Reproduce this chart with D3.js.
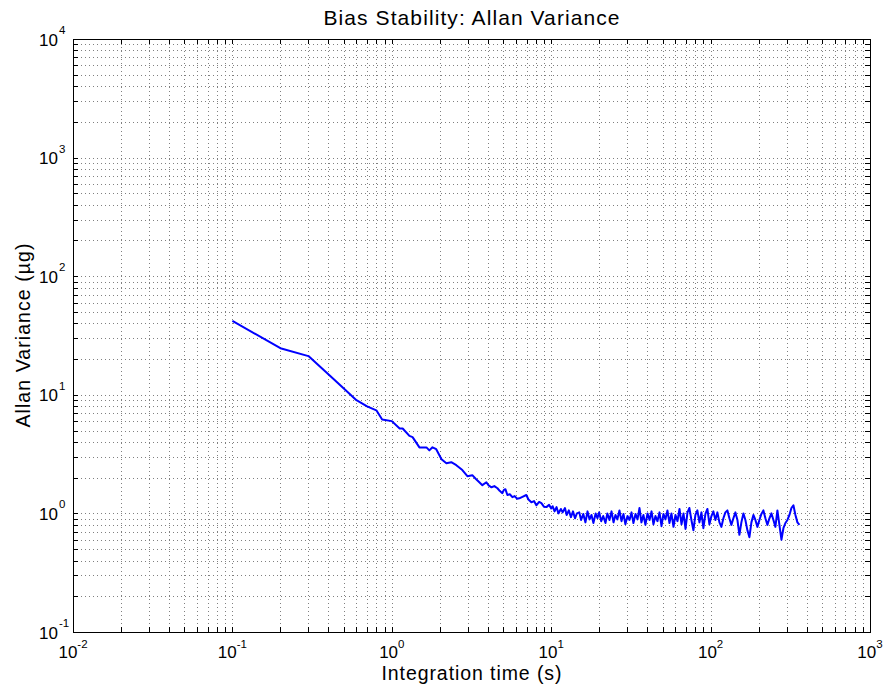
<!DOCTYPE html>
<html>
<head>
<meta charset="utf-8">
<script src="https://cdn.jsdelivr.net/npm/d3@7"></script>
<style>
  html, body { margin: 0; padding: 0; background: #fff; }
  svg { display: block; }
  text { font-family: Arial, "Liberation Sans", Helvetica, sans-serif; fill: #000; }
</style>
</head>
<body>
<svg id="chart" width="884" height="689"></svg>
<script>
// ---------- data ----------
const title = "Bias Stability: Allan Variance";
const xLabel = "Integration time (s)";
const yLabel = "Allan Variance (µg)";
const xExponents = [-2, -1, 0, 1, 2, 3];
const yExponents = [-1, 0, 1, 2, 3, 4];

// short integration times
const tauA  = [0.1, 0.2, 0.3, 0.4, 0.5, 0.6, 0.7, 0.8, 0.87, 1.0, 1.12, 1.17, 1.29, 1.35, 1.49, 1.65, 1.72, 1.80, 1.90];
const adevA = [42, 24.7, 21.2, 14.9, 11.3, 9.0, 8.0, 7.4, 6.2, 6.0, 5.2, 5.2, 4.5, 4.4, 3.6, 3.6, 3.4, 3.61, 3.48];
// 2 s .. 10 s
const tauB  = [2.05, 2.20, 2.36, 2.54, 2.77, 2.98, 3.20, 3.37, 3.54, 3.70, 3.92, 4.05, 4.22, 4.40, 4.60, 4.75, 4.94, 5.05, 5.16, 5.31, 5.5, 5.71, 5.9, 6.1, 6.31, 6.6, 6.98, 7.2, 7.51, 7.8, 8.07, 8.4, 8.68, 9.0, 9.33, 9.7, 10.0];
const adevB = [2.86, 2.65, 2.70, 2.55, 2.32, 2.06, 2.10, 1.95, 1.83, 1.73, 1.83, 1.72, 1.66, 1.70, 1.63, 1.55, 1.48, 1.58, 1.60, 1.43, 1.45, 1.37, 1.40, 1.33, 1.34, 1.38, 1.43, 1.31, 1.24, 1.27, 1.17, 1.25, 1.22, 1.14, 1.13, 1.18, 1.10];
// 10 s .. 15 s
const tauC  = [10.2, 10.5, 10.8, 11.1, 11.5, 11.8, 12.2, 12.5, 12.9, 13.3, 13.7, 14.1, 14.5];
const adevC = [1.15, 1.04, 1.13, 1.00, 1.09, 1.02, 1.11, 0.97, 1.06, 0.93, 1.04, 0.91, 1.00];
// 15 s .. 72 s
const tauD  = [15, 15.4, 15.9, 16.4, 16.9, 17.4, 17.9, 18.4, 19, 19.5, 20, 20.6, 21.2, 21.9, 22.5, 23.2, 23.9, 24.6, 25.3, 26, 26.8, 27.6, 28.4, 29.2, 30.1, 31, 31.9, 32.8, 33.8, 34.8, 35.8, 36.8, 37.9, 39, 40.2, 41.4, 42.6, 43.8, 45.1, 46.4, 47.8, 49.2, 50.6, 52.1, 53.6, 55.2, 56.8, 58.5, 60.2, 62, 63.8, 65.7, 67.6, 69.6, 71.6];
const adevD = [1.02, 0.88, 0.99, 0.84, 1.04, 0.89, 0.97, 0.83, 1.00, 0.91, 1.02, 0.86, 0.95, 0.83, 1.00, 0.88, 1.04, 0.84, 0.97, 0.89, 1.06, 0.86, 0.99, 0.81, 0.95, 0.88, 1.02, 0.83, 0.99, 0.89, 1.11, 0.84, 0.97, 0.80, 1.00, 0.88, 1.04, 0.81, 0.95, 0.86, 1.02, 0.78, 0.99, 0.89, 1.06, 0.83, 1.00, 0.77, 0.97, 0.86, 1.09, 0.81, 1.00, 0.74, 1.02];
// 73 s .. 361 s
const tauE  = [73.6, 75.8, 78.0, 80.3, 82.6, 85.1, 87.6, 90.1, 92.8, 95.5, 98.3, 101.2, 104.1, 107.2, 110.3, 113.6, 116.9, 120.3, 123.8, 127.5, 131.2, 135.0, 139.0, 143.1, 147.3, 151.6, 156.0, 160.6, 165.3, 170.2, 175.2, 180.3, 185.6, 191.0, 196.6, 202.4, 208.3, 214.4, 220.7, 227.2, 233.9, 240.7, 247.8, 255.0, 262.5, 270.2, 278.2, 286.3, 294.7, 303.4, 312.3, 321.4, 330.8, 340.5, 350.5, 360.8];
const adevE = [1.11, 0.88, 0.72, 0.97, 1.06, 0.84, 1.02, 0.75, 0.99, 1.09, 0.81, 0.95, 1.04, 0.88, 1.02, 0.84, 0.77, 0.91, 1.02, 1.06, 0.91, 0.80, 0.91, 1.02, 0.88, 0.66, 0.84, 1.00, 0.88, 0.72, 0.63, 0.84, 0.97, 0.88, 0.77, 0.88, 0.99, 1.06, 0.91, 0.80, 0.91, 1.00, 0.88, 0.77, 1.06, 0.80, 0.60, 0.75, 0.83, 0.88, 0.97, 1.11, 1.17, 0.97, 0.84, 0.80];

const tau  = [].concat(tauA, tauB, tauC, tauD, tauE);
const adev = [].concat(adevA, adevB, adevC, adevD, adevE);
const points = tau.map((t, i) => ({ t: t, v: adev[i] }));

// ---------- layout ----------
const L = 73, R = 870, T = 39, B = 632;
const svg = d3.select("#chart");
const x = d3.scaleLog().domain([1e-2, 1e3]).range([L, R]);
const y = d3.scaleLog().domain([1e-1, 1e4]).range([B, T]);

svg.append("rect").attr("width", 884).attr("height", 689).attr("fill", "#fff");

function logTicks(lo, hi) {
  const out = [];
  for (let e = lo; e < hi; e++) for (let m = 1; m <= 9; m++) out.push(m * Math.pow(10, e));
  out.push(Math.pow(10, hi));
  return out;
}
const xt = logTicks(-2, 3);
const yt = logTicks(-1, 4);

// grid
const grid = svg.append("g").attr("stroke", "#808080").attr("stroke-width", 1)
  .attr("stroke-dasharray", "1,3").attr("shape-rendering", "crispEdges");
xt.forEach(v => {
  const px = Math.round(x(v)) + 0.5;
  if (px < L + 1 || px > R - 1) return;
  grid.append("line").attr("x1", px).attr("x2", px).attr("y1", T).attr("y2", B);
});
yt.forEach(v => {
  const py = Math.round(y(v)) + 0.5;
  if (py < T + 1 || py > B - 1) return;
  grid.append("line").attr("x1", L).attr("x2", R).attr("y1", py).attr("y2", py);
});

// ticks on all four sides (inward)
const tk = svg.append("g").attr("stroke", "#000").attr("stroke-width", 1).attr("shape-rendering", "crispEdges");
xt.forEach(v => {
  const px = Math.round(x(v)) + 0.5;
  tk.append("line").attr("x1", px).attr("x2", px).attr("y1", B).attr("y2", B - 5);
  tk.append("line").attr("x1", px).attr("x2", px).attr("y1", T).attr("y2", T + 5);
});
yt.forEach(v => {
  const py = Math.round(y(v)) + 0.5;
  tk.append("line").attr("x1", L).attr("x2", L + 5).attr("y1", py).attr("y2", py);
  tk.append("line").attr("x1", R).attr("x2", R - 5).attr("y1", py).attr("y2", py);
});

// box
svg.append("rect").attr("x", L + 0.5).attr("y", T + 0.5).attr("width", R - L).attr("height", B - T)
  .attr("fill", "none").attr("stroke", "#000").attr("stroke-width", 1).attr("shape-rendering", "crispEdges");

// curve
const line = d3.line().x(d => x(d.t)).y(d => y(d.v));
svg.append("path").datum(points).attr("d", line)
  .attr("fill", "none").attr("stroke", "#0000ff").attr("stroke-width", 2)
  .attr("stroke-linejoin", "round");

// x tick labels
xExponents.forEach(e => {
  const t = svg.append("text").attr("x", x(Math.pow(10, e))).attr("y", 658)
    .attr("text-anchor", "middle").attr("font-size", 17);
  t.append("tspan").text("10");
  t.append("tspan").attr("dy", -10).attr("font-size", 11.5).text(String(e));
});

// y tick labels
yExponents.forEach(e => {
  const py = y(Math.pow(10, e));
  svg.append("text").attr("x", 58).attr("y", py + 6.5).attr("text-anchor", "end")
    .attr("font-size", 17).text("10");
  svg.append("text").attr("x", 59).attr("y", py - 5).attr("text-anchor", "start")
    .attr("font-size", 11.5).text(String(e));
});

// title
svg.append("text").attr("x", (L + R) / 2).attr("y", 25).attr("text-anchor", "middle")
  .attr("font-size", 21).attr("textLength", 296).attr("lengthAdjust", "spacing").text(title);

// x label
svg.append("text").attr("x", (L + R) / 2).attr("y", 680).attr("text-anchor", "middle")
  .attr("font-size", 19.5).attr("textLength", 180).attr("lengthAdjust", "spacing").text(xLabel);

// y label
svg.append("text").attr("transform", `translate(30,${(T + B) / 2}) rotate(-90)`)
  .attr("text-anchor", "middle").attr("font-size", 19.5)
  .attr("textLength", 184).attr("lengthAdjust", "spacing").text(yLabel);
</script>
</body>
</html>
